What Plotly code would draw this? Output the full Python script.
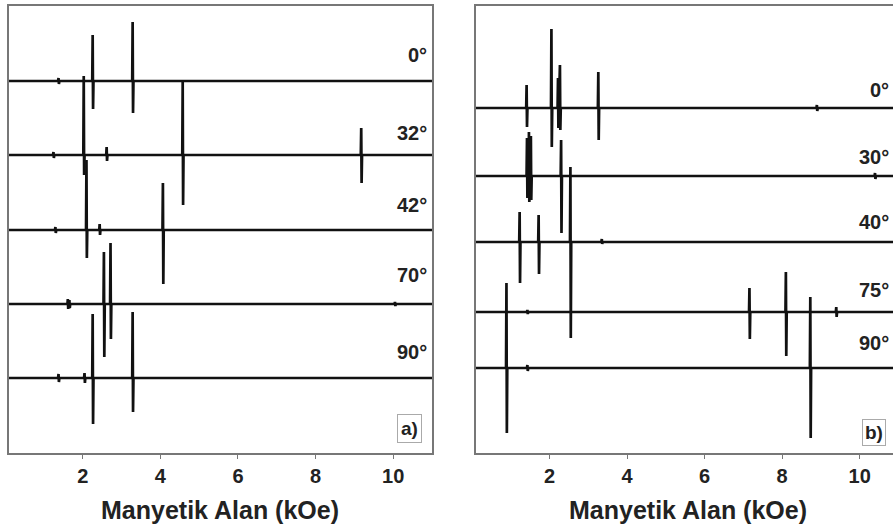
import plotly.graph_objects as go

# ---------------- data: panel a) ----------------
a_labels = ["0°", "32°", "42°", "70°", "90°"]
a_offsets = [372, 298, 223, 149, 75]
a_fields = [
    [1.38, 2.26, 3.29],
    [1.25, 2.03, 2.62, 4.58, 9.18],
    [1.30, 2.10, 2.44, 4.07],
    [1.62, 1.66, 2.55, 2.72, 10.05],
    [1.38, 2.05, 2.26, 3.29],
]
a_up = [
    [3, 46, 59],
    [3, 79, 8, 73, 27],
    [3, 70, 6, 47],
    [5, 4, 52, 61, 2],
    [4, 5, 64, 66],
]
a_down = [
    [3, 28, 32],
    [3, 20, 6, 50, 28],
    [3, 28, 5, 54],
    [5, 4, 53, 35, 2],
    [4, 5, 46, 34],
]

# ---------------- data: panel b) ----------------
b_labels = ["0°", "30°", "40°", "75°", "90°"]
b_offsets = [345, 277, 211, 141, 85]
b_fields = [
    [1.41, 2.05, 2.22, 2.27, 3.26, 8.90],
    [1.42, 1.47, 1.52, 2.30, 10.40],
    [1.23, 1.72, 2.54, 3.35],
    [1.43, 7.16, 8.10, 9.40],
    [0.89, 1.43, 8.73],
]
b_up = [
    [23, 79, 30, 43, 36, 3],
    [38, 44, 40, 36, 3],
    [30, 27, 75, 3],
    [2, 24, 40, 5],
    [85, 3, 71],
]
b_down = [
    [19, 39, 20, 22, 32, 3],
    [22, 26, 24, 57, 3],
    [41, 32, 96, 2],
    [2, 27, 44, 5],
    [65, 3, 70],
]

x_ticks = [2, 4, 6, 8, 10]
a_range = [0.1, 11.0]
b_range = [0.1, 10.86]

W, H = 893, 528


def spectrum(xmin, xmax, base, fields, ups, downs):
    xs, ys = [xmin], [base]
    for f, u, d in sorted(zip(fields, ups, downs)):
        xs += [f - 0.015, f - 0.004, f + 0.006, f + 0.017]
        ys += [base, base + u, base - d, base]
    xs.append(xmax)
    ys.append(base)
    return xs, ys


fig = go.Figure()

for i in range(len(a_labels)):
    xs, ys = spectrum(a_range[0], a_range[1], a_offsets[i], a_fields[i], a_up[i], a_down[i])
    fig.add_trace(go.Scatter(x=xs, y=ys, mode="lines", line=dict(color="#111", width=2.7),
                             xaxis="x", yaxis="y", showlegend=False, hoverinfo="skip"))

for i in range(len(b_labels)):
    xs, ys = spectrum(b_range[0], b_range[1], b_offsets[i], b_fields[i], b_up[i], b_down[i])
    fig.add_trace(go.Scatter(x=xs, y=ys, mode="lines", line=dict(color="#111", width=2.7),
                             xaxis="x2", yaxis="y2", showlegend=False, hoverinfo="skip"))

ydom = [75 / H, 522 / H]
font_family = "Liberation Sans, Arial, sans-serif"
tickfont = dict(family=font_family, size=20, color="#222", weight="bold")
axcol = "#777"

common_x = dict(tickvals=x_ticks, ticks="outside", ticklen=4, tickcolor=axcol,
                tickfont=tickfont, showgrid=False, zeroline=False, showline=True,
                linecolor=axcol, linewidth=1.5, mirror=True)

fig.update_layout(
    width=W, height=H,
    margin=dict(l=0, r=0, t=0, b=0),
    paper_bgcolor="white", plot_bgcolor="white",
    xaxis=dict(domain=[9 / W, 432 / W], range=a_range, anchor="y", **common_x),
    yaxis=dict(domain=ydom, range=[0, 447], anchor="x", showticklabels=False, ticks="",
               showgrid=False, zeroline=False, showline=True, linecolor=axcol,
               linewidth=1.5, mirror=True),
    xaxis2=dict(domain=[476 / W, 1.0], range=b_range, anchor="y2", **common_x),
    yaxis2=dict(domain=ydom, range=[0, 447], anchor="x2", showticklabels=False, ticks="",
                showgrid=False, zeroline=False, showline=True, linecolor=axcol,
                linewidth=1.5, mirror=False),
)

lab_font = dict(family=font_family, size=20, color="#222", weight="bold")
a_label_y = [55, 133, 205, 275, 352]
for txt, py in zip(a_labels, a_label_y):
    fig.add_annotation(text=txt, x=429 / W, y=1 - py / H, xref="paper", yref="paper",
                       xanchor="right", yanchor="middle", showarrow=False, font=lab_font)

b_label_y = [90, 157, 222, 290, 343]
for txt, py in zip(b_labels, b_label_y):
    fig.add_annotation(text=txt, x=891 / W, y=1 - py / H, xref="paper", yref="paper",
                       xanchor="right", yanchor="middle", showarrow=False, font=lab_font)

box_font = dict(family=font_family, size=19, color="#222", weight="bold")
fig.add_annotation(text="a)", x=409 / W, y=1 - 428 / H, xref="paper", yref="paper",
                   xanchor="center", yanchor="middle", showarrow=False, font=box_font,
                   bordercolor="#aaa", borderwidth=1, borderpad=3, bgcolor="white")
fig.add_annotation(text="b)", x=862 / W, y=1 - 432 / H, xref="paper", yref="paper",
                   xanchor="left", yanchor="middle", showarrow=False, font=box_font,
                   bordercolor="#aaa", borderwidth=1, borderpad=2, bgcolor="white")

title_font = dict(family=font_family, size=25, color="#222", weight="bold")
fig.add_annotation(text="Manyetik Alan (kOe)", x=220 / W, y=1 - 510 / H, xref="paper",
                   yref="paper", xanchor="center", yanchor="middle", showarrow=False,
                   font=title_font)
fig.add_annotation(text="Manyetik Alan (kOe)", x=688 / W, y=1 - 510 / H, xref="paper",
                   yref="paper", xanchor="center", yanchor="middle", showarrow=False,
                   font=title_font)

fig.write_html("out.html",
               config={"displayModeBar": False},
               post_script="document.body.style.margin='0';document.body.style.overflow='hidden';")
